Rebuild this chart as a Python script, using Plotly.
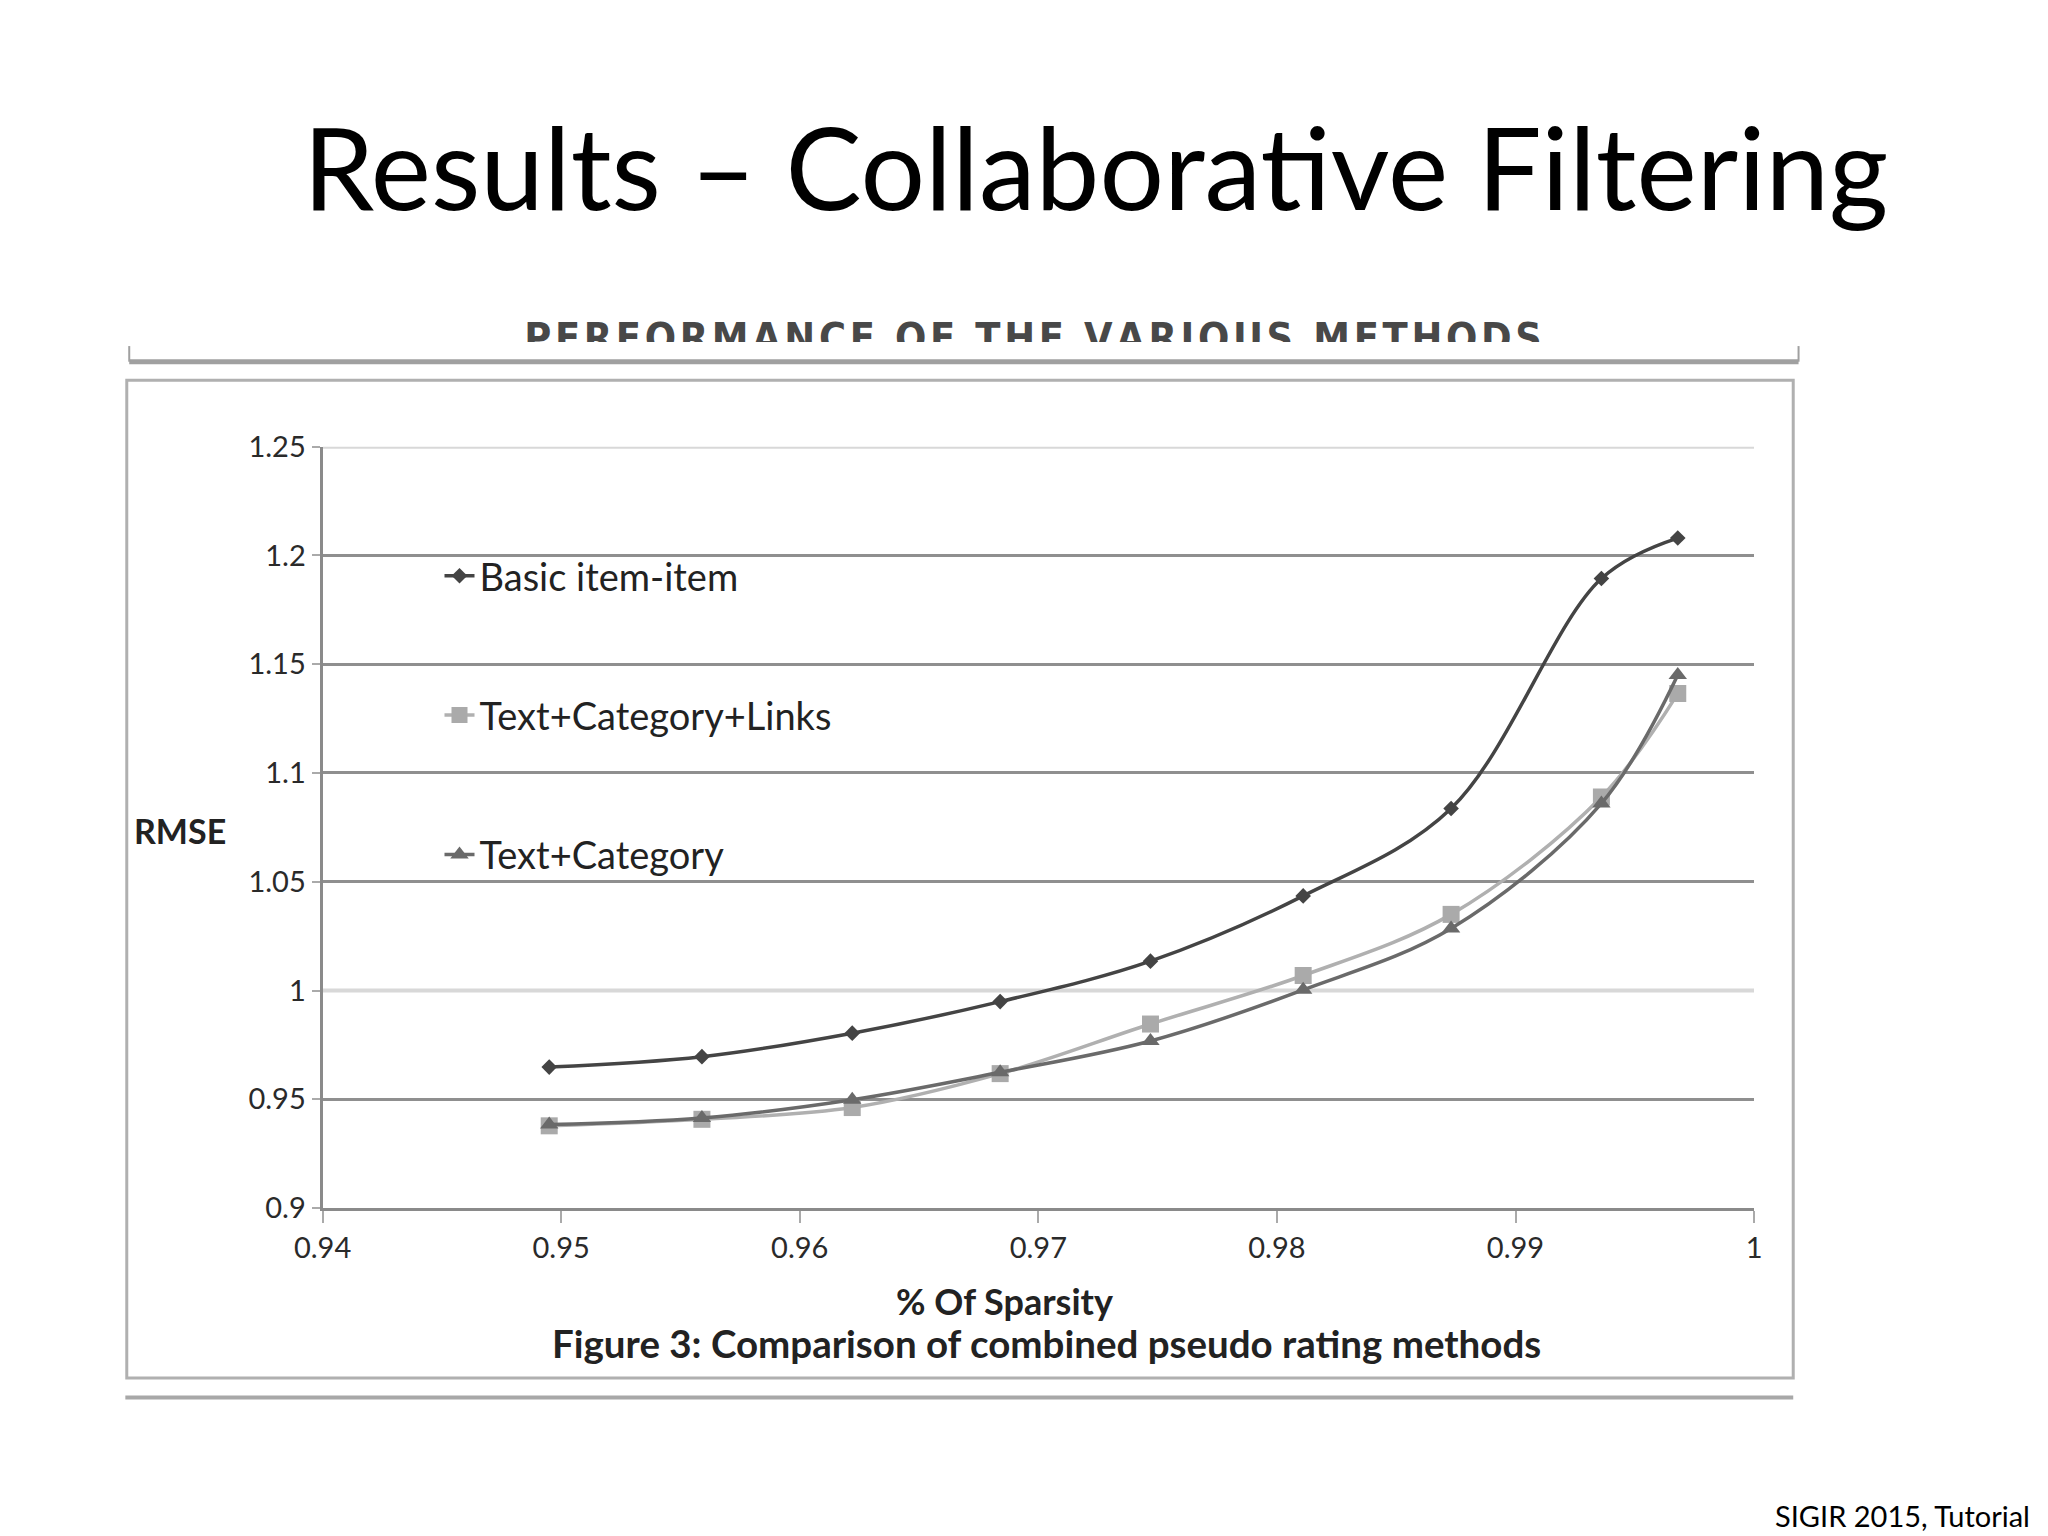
import plotly.graph_objects as go

# sparsity values (x) shared by all three methods
sparsity = [0.9495, 0.9559, 0.9622, 0.9684, 0.9747, 0.9811, 0.9873, 0.9936, 0.9968]

# RMSE per method
basic_item_item = [0.9648, 0.9696, 0.9804, 0.9949, 1.0135, 1.0435, 1.0837, 1.1894, 1.2080]
text_cat_links = [0.9378, 0.9408, 0.9462, 0.9618, 0.9846, 1.0069, 1.0350, 1.0890, 1.1365]
text_cat = [0.9384, 0.9414, 0.9498, 0.9624, 0.9768, 1.0003, 1.0285, 1.0860, 1.1450]

x_ticks = [0.94, 0.95, 0.96, 0.97, 0.98, 0.99, 1.0]
x_tick_labels = ["0.94", "0.95", "0.96", "0.97", "0.98", "0.99", "1"]
y_ticks = [0.9, 0.95, 1.0, 1.05, 1.1, 1.15, 1.2, 1.25]
y_tick_labels = ["0.9", "0.95", "1", "1.05", "1.1", "1.15", "1.2", "1.25"]

FONT = "Lato"
# the page body adds an 8px margin, so pull everything back by that much
OX = -8 / 2048
OY = 8 / 1536


def px(v):
    return v + OX


def py(v):
    return v + OY


fig = go.Figure()

fig.add_trace(go.Scatter(
    x=sparsity, y=basic_item_item, name="Basic item-item", legendgroup="a",
    mode="lines+markers", line=dict(color="#444444", width=3.5, shape="spline"),
    marker=dict(symbol="diamond", size=12, color="#444444"),
))
fig.add_trace(go.Scatter(
    x=sparsity, y=text_cat_links, name="Text+Category+Links", legendgroup="b",
    mode="lines+markers", line=dict(color="#b0b0b0", width=3.5, shape="spline"),
    marker=dict(symbol="square", size=17, color="#aaaaaa"),
))
fig.add_trace(go.Scatter(
    x=sparsity, y=text_cat, name="Text+Category", legendgroup="c",
    mode="lines+markers", line=dict(color="#6a6a6a", width=3.5, shape="spline"),
    marker=dict(symbol="triangle-up", size=16, color="#6a6a6a"),
))

# clipped heading strip above the chart picture
heading = "\u200a".join("PERFORMANCE OF THE VARIOUS METHODS")
fig.add_trace(go.Scatter(
    x=[px(0.5044)], y=[0], mode="text", text=[heading], xaxis="x2", yaxis="y2",
    textposition="middle center", cliponaxis=True, showlegend=False, hoverinfo="skip",
    textfont=dict(family="Liberation Sans Narrow, DejaVu Sans Condensed, Lato", size=41,
                  color="#484848", weight="bold"),
))

fig.update_layout(
    width=2048, height=1536,
    margin=dict(l=0, r=0, t=0, b=0, autoexpand=False),
    paper_bgcolor="white", plot_bgcolor="white",
    font=dict(family=FONT, color="#333333"),
    xaxis=dict(
        domain=[px(0.1575), px(0.8565)], range=[0.94, 1.0],
        tickvals=x_ticks, ticktext=x_tick_labels,
        showgrid=False, zeroline=False,
        showline=True, linecolor="#8a8a8a", linewidth=3,
        ticks="outside", ticklen=12, tickcolor="#aaaaaa", tickwidth=2,
        tickfont=dict(size=29, color="#2a2a2a"),
    ),
    yaxis=dict(
        domain=[py(0.2135), py(0.7092)], range=[0.9, 1.25],
        tickvals=y_ticks, ticktext=y_tick_labels,
        showgrid=True, gridcolor="#8f8f8f", gridwidth=2.5, zeroline=False,
        showline=True, linecolor="#8a8a8a", linewidth=3,
        ticks="outside", ticklen=8, tickcolor="#aaaaaa", tickwidth=2,
        tickfont=dict(size=29, color="#2a2a2a"),
    ),
    xaxis2=dict(domain=[0, 1], range=[0, 1], visible=False, anchor="y2"),
    yaxis2=dict(domain=[py(0.7773), py(0.80)], range=[0, 1], visible=False, anchor="x2"),
    legend=dict(
        x=px(0.2146), y=py(0.6455), xanchor="left", yanchor="top",
        bgcolor="rgba(0,0,0,0)", traceorder="grouped", tracegroupgap=87,
        font=dict(family=FONT, size=38, color="#222222"),
    ),
    showlegend=True,
)

# the 1.0 and 1.25 gridlines are much paler in the source picture
for yv in (y_ticks[2], y_ticks[-1]):
    fig.add_shape(type="line", xref="x", yref="y", x0=x_ticks[0], x1=x_ticks[-1], y0=yv, y1=yv,
                  line=dict(color="#d8d8d8", width=4), layer="between")

fig.add_annotation(
    text="Results \u2013 Collaborative Filtering", xref="paper", yref="paper",
    x=px(0.535), y=py(1 - 166 / 1536), xanchor="center", yanchor="middle", showarrow=False,
    font=dict(family=FONT, size=114, color="#000000"),
)
fig.add_annotation(
    text="<b>RMSE</b>", xref="paper", yref="paper", x=px(0.088), y=py(0.4592),
    xanchor="center", yanchor="middle", showarrow=False,
    font=dict(family=FONT, size=34, color="#222222"),
)
fig.add_annotation(
    text="<b>% Of Sparsity</b>", xref="paper", yref="paper", x=px(0.4904), y=py(0.153),
    xanchor="center", yanchor="middle", showarrow=False,
    font=dict(family=FONT, size=36, color="#222222"),
)
fig.add_annotation(
    text="<b>Figure 3: Comparison of combined pseudo rating methods</b>", xref="paper", yref="paper",
    x=px(0.5109), y=py(0.1258), xanchor="center", yanchor="middle", showarrow=False,
    font=dict(family=FONT, size=38.5, color="#222222"),
)
fig.add_annotation(
    text="SIGIR 2015, Tutorial", xref="paper", yref="paper", x=px(2032 / 2048), y=py(1 - 1515 / 1536),
    xanchor="right", yanchor="middle", showarrow=False,
    font=dict(family=FONT, size=29, color="#000000"),
)

# frame of the pasted chart picture
fig.add_shape(type="rect", xref="paper", yref="paper", x0=px(0.0619), x1=px(0.8756),
              y0=py(0.1029), y1=py(0.7525), line=dict(color="#b0b0b0", width=3), layer="below")
fig.add_shape(type="line", xref="paper", yref="paper", x0=px(0.0631), x1=px(0.8782),
              y0=py(0.7645), y1=py(0.7645), line=dict(color="#a0a0a0", width=5))
fig.add_shape(type="line", xref="paper", yref="paper", x0=px(0.0631), x1=px(0.0631),
              y0=py(0.7645), y1=py(0.7747), line=dict(color="#a0a0a0", width=2))
fig.add_shape(type="line", xref="paper", yref="paper", x0=px(0.8782), x1=px(0.8782),
              y0=py(0.7645), y1=py(0.7747), line=dict(color="#a0a0a0", width=2))
fig.add_shape(type="line", xref="paper", yref="paper", x0=px(0.0612), x1=px(0.8756),
              y0=py(0.0902), y1=py(0.0902), line=dict(color="#a8a8a8", width=4))

fig.write_html("out.html")
